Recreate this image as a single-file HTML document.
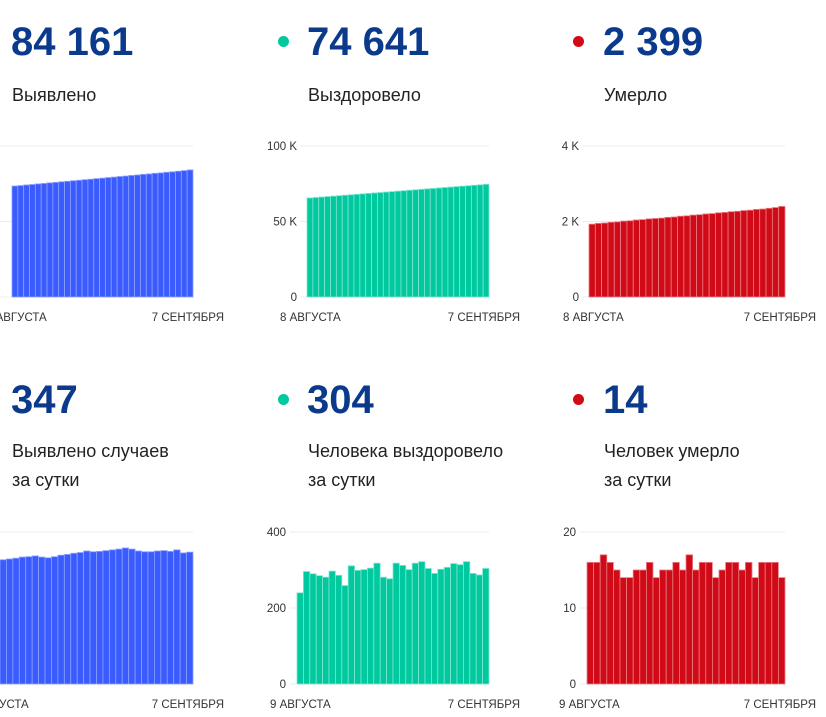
<!DOCTYPE html>
<html><head><meta charset="utf-8">
<style>
body{margin:0;width:826px;height:717px;overflow:hidden;background:#fff;font-family:"Liberation Sans",Arial,sans-serif;position:relative}
.num{position:absolute;font-weight:bold;font-size:40px;color:#0b3a8c;line-height:40px}
.lbl{position:absolute;font-size:18px;color:#222;line-height:29px}
.dot{position:absolute;width:11px;height:11px;border-radius:50%}
svg{position:absolute;left:0;top:0}
</style></head><body>
<div class="num" style="left:11px;top:22px">84 161</div>
<div class="lbl" style="left:12px;top:81px">Выявлено</div>
<div class="dot" style="left:278px;top:36px;background:#00c9a0"></div>
<div class="num" style="left:307px;top:22px">74 641</div>
<div class="lbl" style="left:308px;top:81px">Выздоровело</div>
<div class="dot" style="left:573px;top:36px;background:#d00a16"></div>
<div class="num" style="left:603px;top:22px">2 399</div>
<div class="lbl" style="left:604px;top:81px">Умерло</div>

<div class="num" style="left:11px;top:380px">347</div>
<div class="lbl" style="left:12px;top:437px">Выявлено случаев<br>за сутки</div>
<div class="dot" style="left:278px;top:394px;background:#00c9a0"></div>
<div class="num" style="left:307px;top:380px">304</div>
<div class="lbl" style="left:308px;top:437px">Человека выздоровело<br>за сутки</div>
<div class="dot" style="left:573px;top:394px;background:#d00a16"></div>
<div class="num" style="left:603px;top:380px">14</div>
<div class="lbl" style="left:604px;top:437px">Человек умерло<br>за сутки</div>

<svg id="s" width="826" height="717"></svg>
<script>
const confirmedTotal=[73.5,73.8,74.2,74.5,74.9,75.2,75.6,75.9,76.3,76.6,77.0,77.3,77.7,78.0,78.4,78.7,79.1,79.4,79.8,80.1,80.5,80.8,81.2,81.5,81.9,82.2,82.6,82.9,83.3,83.7,84.161];
const recoveredTotal=[65.6,65.9,66.2,66.5,66.8,67.1,67.4,67.7,68.0,68.3,68.6,68.9,69.2,69.5,69.8,70.1,70.4,70.7,71.0,71.3,71.6,71.9,72.2,72.5,72.8,73.1,73.4,73.7,74.0,74.3,74.641];
const deathsTotal=[1.93,1.95,1.96,1.98,1.99,2.01,2.02,2.04,2.05,2.07,2.08,2.09,2.11,2.12,2.14,2.15,2.17,2.18,2.2,2.21,2.23,2.24,2.26,2.27,2.29,2.3,2.32,2.33,2.35,2.37,2.399];
const confirmedDaily=[327,329,331,334,335,337,334,332,335,339,341,344,346,350,348,349,351,353,355,358,355,350,348,348,350,351,349,353,345,347];
const recoveredDaily=[240,296,290,285,281,297,286,259,311,299,301,305,318,281,277,318,312,301,318,322,304,291,302,307,317,314,322,291,287,304];
const deathsDaily=[16,16,17,16,15,14,14,15,15,16,14,15,15,16,15,17,15,16,16,14,15,16,16,15,16,14,16,16,16,14];
const ticksTop=["0","50 K","100 K"], ticksTopD=["0","2 K","4 K"];
const ticksRec=["0","200","400"], ticksDeath=["0","10","20"];
const NS="http://www.w3.org/2000/svg", s=document.getElementById('s');
function mk(t,a,parent){const e=document.createElementNS(NS,t);for(const k in a)e.setAttribute(k,a[k]);(parent||s).appendChild(e);return e;}
function chart(o){
  const g=mk('g',{});
  
  
  const y=v=>o.y0-(v/o.max)*(o.y0-o.y1);
  o.ticks.forEach((t,i)=>{const v=o.max*i/(o.ticks.length-1);
    const l=mk('line',{x1:o.gx,x2:o.x1,y1:y(v),y2:y(v),stroke:'#ececec','stroke-width':1},g);
    
    if(o.showTicks){const tx=mk('text',{x:o.tx,y:y(v)+4,'text-anchor':'end','font-size':11.5,fill:'#333'},g);tx.textContent=t;
    }
  });
  const n=o.data.length,w=(o.x1-o.x0)/n;
  o.data.forEach((v,i)=>{const r=mk('rect',{x:o.x0+i*w,y:y(v),width:w,height:o.y0-y(v),fill:o.color,stroke:o.edge,'stroke-width':0.8},g);
    });
  const a=mk('text',{x:o.lx,y:o.y0+24,'font-size':11.5,fill:'#333'},g);a.textContent=o.startLabel;
  
  const b=mk('text',{x:o.x1+31,y:o.y0+24,'text-anchor':'end','font-size':11.5,fill:'#333'},g);b.textContent='7 СЕНТЯБРЯ';
  
}
chart({name:'confirmed-total-chart',data:confirmedTotal,max:100,ticks:ticksTop,x0:12,x1:193,gx:0,y0:297,y1:146,color:'#3a5cff',edge:'#8da0ff',showTicks:false,lx:-14,startLabel:'8 АВГУСТА'});
chart({name:'recovered-total-chart',data:recoveredTotal,max:100,ticks:ticksTop,x0:307,x1:489,gx:300,y0:297,y1:146,color:'#00c9a0',edge:'#7fe6cf',showTicks:true,tx:297,lx:280,startLabel:'8 АВГУСТА'});
chart({name:'deaths-total-chart',data:deathsTotal,max:4,ticks:ticksTopD,x0:589,x1:785,gx:582,y0:297,y1:146,color:'#d00a16',edge:'#ea7d84',showTicks:true,tx:579,lx:563,startLabel:'8 АВГУСТА'});
chart({name:'confirmed-daily-chart',data:confirmedDaily,max:400,ticks:ticksRec,x0:0,x1:193,gx:0,y0:684,y1:532,color:'#3a5cff',edge:'#8da0ff',showTicks:false,lx:-32,startLabel:'9 АВГУСТА'});
chart({name:'recovered-daily-chart',data:recoveredDaily,max:400,ticks:ticksRec,x0:297,x1:489,gx:290,y0:684,y1:532,color:'#00c9a0',edge:'#7fe6cf',showTicks:true,tx:286,lx:270,startLabel:'9 АВГУСТА'});
chart({name:'deaths-daily-chart',data:deathsDaily,max:20,ticks:ticksDeath,x0:587,x1:785,gx:580,y0:684,y1:532,color:'#d00a16',edge:'#ea7d84',showTicks:true,tx:576,lx:559,startLabel:'9 АВГУСТА'});
</script>
</body></html>
